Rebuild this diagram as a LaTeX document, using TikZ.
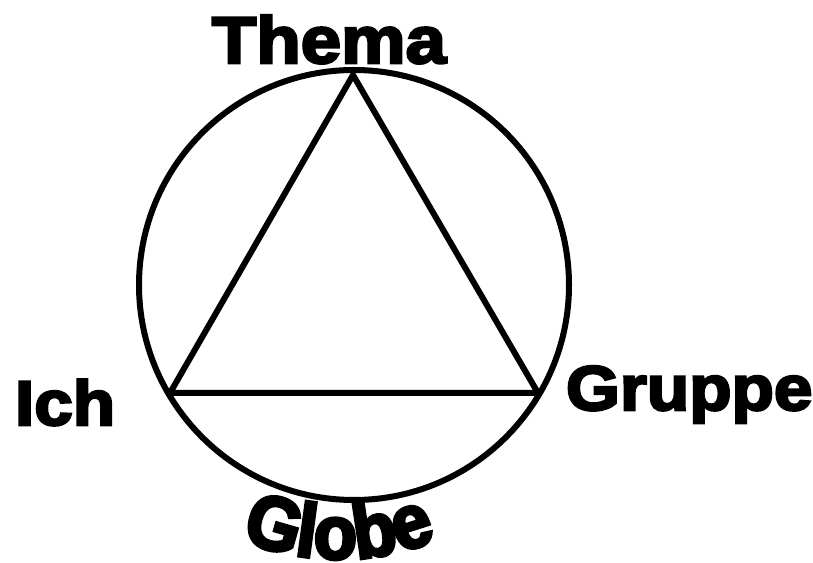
\documentclass[tikz,border=0pt]{standalone}
\usepackage{fontspec}
\usetikzlibrary{decorations.text}
\newfontfamily\blk{Liberation Sans}[FakeBold=4,FakeStretch=1.1]
\newfontfamily\blkg{Liberation Sans}[FakeBold=4.5,FakeStretch=0.93]
\newcommand\lblfont{\blk\bfseries\fontsize{63pt}{63pt}\selectfont}
\newcommand\themafont{\blk\bfseries\fontsize{66pt}{66pt}\selectfont}
\newcommand\globefont{\blkg\bfseries\fontsize{76pt}{76pt}\selectfont}
\begin{document}
\begin{tikzpicture}[x=1pt,y=1pt,
  shape line/.style={line width=6pt, line join=round},
  lbl/.style={inner sep=0pt, outer sep=0pt, font=\lblfont}]
\useasboundingbox (0,0) rectangle (813,562);
\fill[white] (0,0) rectangle (813,562);
\coordinate (c) at (354,277);
\draw[shape line] (c) circle[radius=215];
\coordinate (top) at (353,487);
\coordinate (left) at (170,169);
\coordinate (right) at (538,169);
\draw[shape line] (top) -- (left) -- (right) -- cycle;
\node[lbl, font=\themafont, anchor=base] (thema) at (329,499) {Thema};
\node[lbl, anchor=base west] (ich) at (15,137) {Ich};
\node[lbl, anchor=base west] (gruppe) at (566,152) {Gruppe};
\path[decorate, decoration={text along path, text align=center,
  text={|\globefont|Globe}}]
  (339,263) ++(246:260) arc[start angle=246, end angle=294, radius=260];
\end{tikzpicture}
\end{document}
